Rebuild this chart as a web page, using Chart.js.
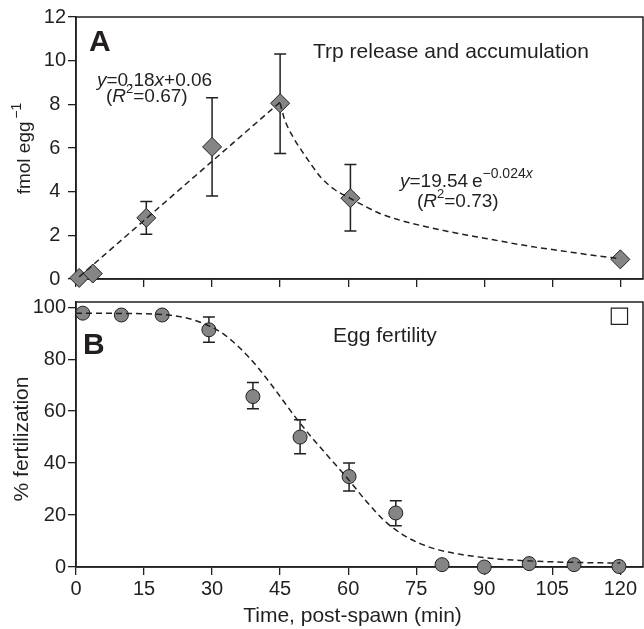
<!DOCTYPE html>
<html>
<head>
<meta charset="utf-8">
<script src="https://cdn.jsdelivr.net/npm/chart.js@4.4.1/dist/chart.umd.min.js"></script>
<style>
html, body { margin: 0; padding: 0; background: #fff; }
#wrap { position: relative; width: 644px; height: 629px; overflow: hidden; }
#wrap canvas { position: absolute; left: 0; }
#chartA { top: 0; }
#chartB { top: 282px; }
</style>
</head>
<body>
<div id="wrap">
  <canvas id="chartA" width="644" height="300"></canvas>
  <canvas id="chartB" width="644" height="347"></canvas>
</div>
<script>
// Painel A - Trp liberado (fmol por ovo)
const tempoTrp = [0.7, 3.7, 15.5, 30, 45, 60.5, 120];
const trpMedia = [0.05, 0.25, 2.8, 6.05, 8.05, 3.7, 0.9];
const trpErroSup = [null, null, 3.55, 8.3, 10.3, 5.25, null];
const trpErroInf = [null, null, 2.05, 3.8, 5.75, 2.2, null];

// curvas de ajuste
const ajusteLinTempo = [0.7, 45];
const ajusteLinValor = [0.1, 8.1];
const ajusteExpTempo = [45, 46, 48, 50, 52, 54, 57, 60.4, 64, 67, 71, 74, 78, 82, 86, 90, 95, 100, 105, 110, 115, 120];
const ajusteExpValor = [8.05, 7.3, 6.45, 5.8, 5.2, 4.65, 4.1, 3.7, 3.3, 3.0, 2.72, 2.55, 2.36, 2.18, 2.02, 1.87, 1.68, 1.5, 1.35, 1.2, 1.06, 0.93];

// Painel B - fertilizacao (%)
const tempoFert = [1.5, 10, 19, 29.3, 39, 49.4, 60.2, 70.5, 80.7, 90, 99.9, 109.8, 119.7];
const fertMedia = [97.7, 97, 97, 91.3, 65.6, 50, 34.8, 20.8, 0.9, 0, 1.3, 0.9, 0.2];
const fertErroSup = [null, null, null, 96.2, 71, 56.7, 40, 25.5, null, null, null, null, null];
const fertErroInf = [null, null, null, 86.5, 60.9, 43.6, 29.3, 15.9, null, null, null, null, null];
const ajusteSigTempo = [0, 10, 18, 24, 28, 32, 36, 40, 44, 48, 52, 56, 60, 64, 68, 72, 76, 80, 85, 90, 97, 105, 112, 120];
const ajusteSigValor = [97.7, 97.6, 97.3, 96, 93.8, 90.3, 84.5, 77, 68, 58.5, 49.8, 41.8, 33.8, 25.3, 17.8, 12.5, 8.9, 6.6, 4.8, 3.6, 2.6, 2.0, 1.7, 1.5];
const quadradoTempo = [119.8];
const quadradoValor = [96.5];

// ticks
const ticksTempo = [0, 15, 30, 45, 60, 75, 90, 105, 120];
const ticksTrp = [0, 2, 4, 6, 8, 10, 12];
const ticksFert = [0, 20, 40, 60, 80, 100];

const corEixo = '#231f20';
const corTexto = '#231f20';
const corCinza = '#858585';
const fonte = '"Liberation Sans", Arial, Helvetica, sans-serif';

Chart.defaults.font.family = fonte;
Chart.defaults.color = corTexto;

const pares = (xs, ys) => xs.map((x, i) => ({ x: x, y: ys[i] }));

function fonteRun(flags, size, supSize) {
    const s = flags.includes('s') ? (supSize || Math.round(size * 0.68)) : size;
    return (flags.includes('i') ? 'italic ' : '') + (flags.includes('b') ? 'bold ' : '') + s + 'px ' + fonte;
}

function larguraRuns(ctx, t) {
    let w = 0;
    t.runs.forEach(r => { ctx.font = fonteRun(r[1] || '', t.size, t.sup); w += ctx.measureText(r[0]).width; });
    return w;
}

// escreve texto com italico / sobrescrito
function escreverRuns(ctx, t, x, y) {
    let cx = x;
    t.runs.forEach(r => {
        const f = r[1] || '';
        ctx.font = fonteRun(f, t.size, t.sup);
        const dy = f.includes('s') ? -t.size * 0.45 : 0;
        ctx.fillText(r[0], cx, y + dy);
        cx += ctx.measureText(r[0]).width;
    });
}

function plugTextos(lista, topo) {
    return {
        id: 'textos',
        afterDraw(chart) {
            const ctx = chart.ctx;
            ctx.save();
            ctx.fillStyle = corTexto;
            ctx.textBaseline = 'alphabetic';
            ctx.textAlign = 'left';
            lista.forEach(t => {
                const w = larguraRuns(ctx, t);
                ctx.save();
                ctx.translate(t.x, t.y - topo);
                if (t.rot) ctx.rotate(t.rot);
                escreverRuns(ctx, t, t.centro ? -w / 2 : 0, 0);
                ctx.restore();
            });
            ctx.restore();
        }
    };
}

// moldura completa em volta da area do grafico
const moldura = {
    id: 'moldura',
    beforeDatasetsDraw(chart) {
        const { ctx, chartArea: a } = chart;
        ctx.save();
        ctx.strokeStyle = corEixo;
        ctx.lineWidth = 1.5;
        ctx.strokeRect(a.left, a.top, a.right - a.left, a.bottom - a.top);
        ctx.restore();
    }
};

function plugErros(xs, sup, inf) {
    return {
        id: 'barrasErro',
        beforeDatasetsDraw(chart) {
            const { ctx, scales: { x, y } } = chart;
            ctx.save();
            ctx.strokeStyle = corEixo;
            ctx.lineWidth = 1.5;
            xs.forEach((xv, i) => {
                if (sup[i] == null) return;
                const px = x.getPixelForValue(xv);
                const pt = y.getPixelForValue(sup[i]);
                const pb = y.getPixelForValue(inf[i]);
                ctx.beginPath();
                ctx.moveTo(px, pt); ctx.lineTo(px, pb);
                ctx.moveTo(px - 6, pt); ctx.lineTo(px + 6, pt);
                ctx.moveTo(px - 6, pb); ctx.lineTo(px + 6, pb);
                ctx.stroke();
            });
            ctx.restore();
        }
    };
}

function linhaTracejada(xs, ys) {
    return {
        type: 'line',
        data: pares(xs, ys),
        borderColor: corEixo,
        borderWidth: 1.5,
        borderDash: [6, 4],
        pointRadius: 0,
        fill: false,
        cubicInterpolationMode: 'monotone',
        order: 0
    };
}

// zera o padding que o chart.js reserva para os rotulos
function semPadding(s) {
    s.paddingLeft = 0; s.paddingRight = 0; s.paddingTop = 0; s.paddingBottom = 0;
}

function eixoY(min, max, ticks, largura, alinhar) {
    return {
        type: 'linear', min: min, max: max,
        afterBuildTicks: s => { s.ticks = ticks.map(v => ({ value: v })); },
        afterFit: s => { s.width = largura; semPadding(s); },
        ticks: { font: { size: 20 }, color: corTexto, padding: 2, crossAlign: alinhar, callback: v => String(v) },
        grid: { drawOnChartArea: false, drawTicks: true, tickLength: 8, color: corEixo, lineWidth: 1.3 },
        border: { display: true, color: corEixo, width: 1.5 }
    };
}

function eixoX(altura, rotulos) {
    return {
        type: 'linear', min: 0, max: 125,
        afterBuildTicks: s => { s.ticks = ticksTempo.map(v => ({ value: v })); },
        afterFit: s => { s.height = altura; semPadding(s); },
        ticks: {
            font: { size: 20 }, color: corTexto, padding: 2, autoSkip: false, maxRotation: 0,
            callback: v => rotulos ? String(v) : ''
        },
        grid: { drawOnChartArea: false, drawTicks: true, tickLength: 8, color: corEixo, lineWidth: 1.3 },
        border: { display: true, color: corEixo, width: 1.5 }
    };
}

const textosA = [
    { runs: [['A', 'b']], size: 30, x: 89, y: 51 },
    { runs: [['Trp release and accumulation']], size: 21, x: 313, y: 58 },
    { runs: [['y', 'i'], ['=0.18'], ['x', 'i'], ['+0.06']], size: 19, x: 97, y: 86 },
    { runs: [['('], ['R', 'i'], ['2', 's'], ['=0.67)']], size: 19, x: 106, y: 102 },
    { runs: [['y', 'i'], ['=19.54\u2009e'], ['\u22120.024', 's'], ['x', 'si']], size: 19, sup: 14, x: 400, y: 187 },
    { runs: [['('], ['R', 'i'], ['2', 's'], ['=0.73)']], size: 19, x: 417, y: 207 },
    { runs: [['fmol egg'], ['\u2009\u22121', 's']], size: 19, sup: 14, x: 30, y: 148.5, rot: -Math.PI / 2, centro: true }
];

const textosB = [
    { runs: [['B', 'b']], size: 30, x: 83, y: 354 },
    { runs: [['Egg fertility']], size: 21, x: 333, y: 342 },
    { runs: [['% fertilization']], size: 21, x: 28, y: 439, rot: -Math.PI / 2, centro: true },
    { runs: [['Time, post-spawn (min)']], size: 21, x: 352.5, y: 622, centro: true }
];

new Chart(document.getElementById('chartA'), {
    data: {
        datasets: [
            linhaTracejada(ajusteLinTempo, ajusteLinValor),
            linhaTracejada(ajusteExpTempo, ajusteExpValor),
            {
                type: 'scatter',
                data: pares(tempoTrp, trpMedia),
                pointStyle: 'rectRot',
                pointRadius: 9.5,
                backgroundColor: corCinza,
                borderColor: corEixo,
                borderWidth: 1,
                clip: false,
                order: 1
            }
        ]
    },
    options: {
        responsive: false,
        animation: false,
        events: [],
        layout: { autoPadding: false, padding: { top: 17, right: 1, left: 0, bottom: 0 } },
        plugins: { legend: { display: false }, tooltip: { enabled: false } },
        scales: {
            x: eixoX(21, false),
            y: eixoY(0, 12, ticksTrp, 76, 'center')
        }
    },
    plugins: [moldura, plugErros(tempoTrp, trpErroSup, trpErroInf), plugTextos(textosA, 0)]
});

new Chart(document.getElementById('chartB'), {
    data: {
        datasets: [
            linhaTracejada(ajusteSigTempo, ajusteSigValor),
            {
                type: 'scatter',
                data: pares(tempoFert, fertMedia),
                pointStyle: 'circle',
                pointRadius: 7,
                backgroundColor: corCinza,
                borderColor: corEixo,
                borderWidth: 1,
                clip: false,
                order: 1
            },
            {
                type: 'scatter',
                data: pares(quadradoTempo, quadradoValor),
                pointStyle: 'rect',
                pointRadius: 11.5,
                backgroundColor: '#ffffff',
                borderColor: corEixo,
                borderWidth: 1.2,
                order: 1
            }
        ]
    },
    options: {
        responsive: false,
        animation: false,
        events: [],
        layout: { autoPadding: false, padding: { top: 20, right: 1, left: 0, bottom: 0 } },
        plugins: { legend: { display: false }, tooltip: { enabled: false } },
        scales: {
            x: eixoX(62, true),
            y: eixoY(0, 102, ticksFert, 76, 'near')
        }
    },
    plugins: [moldura, plugErros(tempoFert, fertErroSup, fertErroInf), plugTextos(textosB, 282)]
});
</script>
</body>
</html>
